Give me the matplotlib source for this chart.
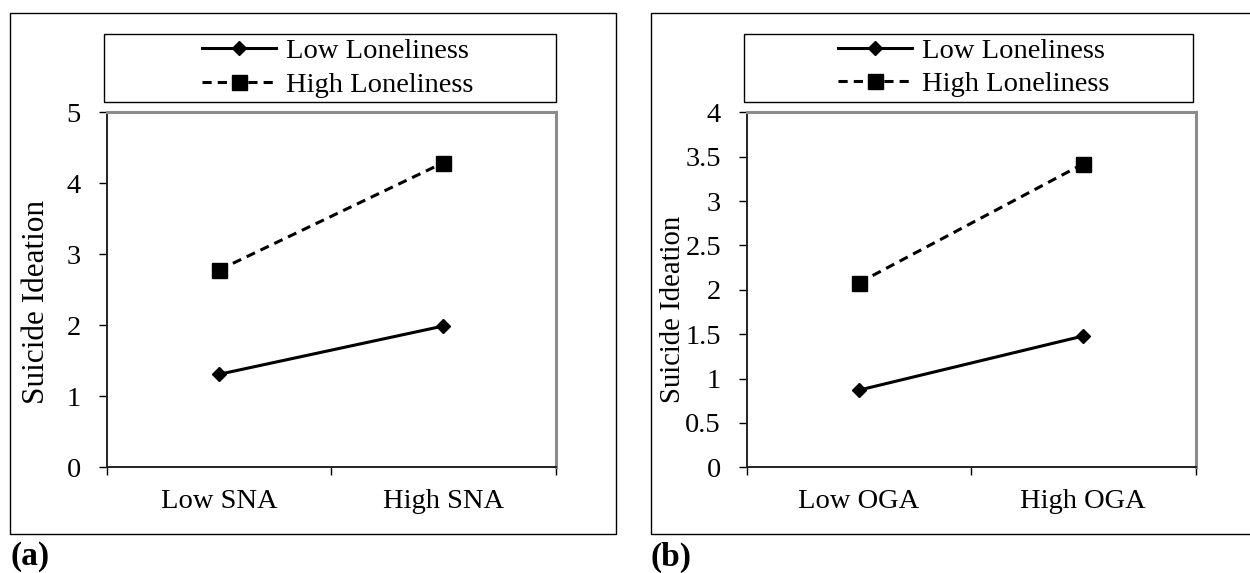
import numpy as np
import matplotlib.pyplot as plt
from matplotlib.patches import Rectangle

plt.rcParams['font.family'] = ['Liberation Serif', 'DejaVu Serif']

# donnees
series = ["Low Loneliness", "High Loneliness"]
cats_a = ["Low SNA", "High SNA"]
low_a = [1.31, 1.99]
high_a = [2.78, 4.29]
cats_b = ["Low OGA", "High OGA"]
low_b = [0.87, 1.48]
high_b = [2.08, 3.42]
yticks_a = [0, 1, 2, 3, 4, 5]
yticks_b = [0, 0.5, 1, 1.5, 2, 2.5, 3, 3.5, 4]

W, H = 1250, 573
fig = plt.figure(figsize=(W / 100, H / 100), dpi=100)


def px(x0, y0, x1, y1):
    # pixels (haut gauche) -> fraction de figure
    return [x0 / W, 1 - y1 / H, (x1 - x0) / W, (y1 - y0) / H]


def panneau(rect, cats, low, high, yticks, ymax, ylab_xy, ylab_size,
            frame, legbox, leg_center, tag_xy, tag):
    # cadre exterieur
    fig.patches.append(Rectangle(frame[:2], frame[2], frame[3], transform=fig.transFigure,
                                 fill=False, edgecolor='black', lw=1.0))
    # cadre legende
    fig.patches.append(Rectangle(legbox[:2], legbox[2], legbox[3], transform=fig.transFigure,
                                 fill=False, edgecolor='black', lw=1.0))

    ax = fig.add_axes(rect)
    x = np.arange(len(cats))
    l1, = ax.plot(x, low, '-', color='black', lw=2.2, marker='D', ms=7.2, label=series[0])
    l2, = ax.plot(x, high, '--', color='black', lw=2.2, marker='s', ms=10.8,
                  dashes=(3.0, 2.0), label=series[1])

    ax.set_xlim(-0.5, len(cats) - 0.5)
    ax.set_ylim(0, ymax)
    ax.set_yticks(yticks)
    ax.set_yticklabels([f"{v:g}" for v in yticks])
    ax.set_xticks([-0.5, 0.5, 1.5])
    ax.set_xticklabels([])
    ax.set_xticks(x, minor=True)
    ax.set_xticklabels(cats, minor=True)
    ax.tick_params(axis='x', which='major', direction='out', length=5.8, width=1.0)
    ax.tick_params(axis='x', which='minor', length=0, pad=15.5, labelsize=20.5)
    ax.tick_params(axis='y', direction='out', length=5.8, width=1.0, pad=13, labelsize=20.5)

    for s in ['top', 'right']:
        ax.spines[s].set_color('#8c8c8c')
        ax.spines[s].set_linewidth(2.2)
    for s in ['left', 'bottom']:
        ax.spines[s].set_color('#222222')
        ax.spines[s].set_linewidth(1.4)

    fig.text(ylab_xy[0] / W, 1 - ylab_xy[1] / H, "Suicide Ideation", rotation=90,
             ha='center', va='center', fontsize=ylab_size)

    fig.legend(handles=[l1, l2], loc='center',
               bbox_to_anchor=(leg_center[0] / W, 1 - leg_center[1] / H),
               frameon=False, fontsize=20.5, handlelength=2.6, handletextpad=0.35,
               labelspacing=0.26, borderpad=0, borderaxespad=0)

    fig.text(tag_xy[0] / W, 1 - tag_xy[1] / H, tag, fontsize=24, fontweight='bold',
             ha='left', va='center')
    return ax


panneau(px(107, 112.3, 555.5, 467.3), cats_a, low_a, high_a, yticks_a, 5,
        (37, 301.5), 22.5,
        px(10, 12.5, 615.7, 534), px(104.3, 33.7, 556.3, 102.3), (337.5, 68),
        (11, 557), "(a)")

panneau(px(747, 112.3, 1195.5, 467.3), cats_b, low_b, high_b, yticks_b, 4,
        (673, 309.5), 20.7,
        px(651, 12.5, 1252, 534), px(744, 33.6, 1193, 101.5), (974, 67.5),
        (651, 557), "(b)")

plt.savefig('out.png', dpi=100)
